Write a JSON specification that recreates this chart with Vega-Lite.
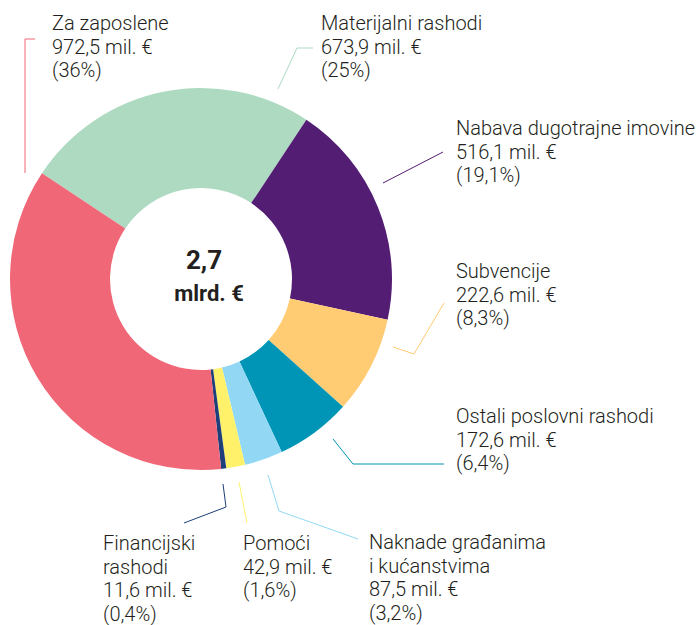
{
  "$schema": "https://vega.github.io/schema/vega-lite/v6.json",
  "width": 698,
  "height": 625,
  "autosize": {"type": "none"},
  "padding": 0,
  "background": "#ffffff",
  "config": {"view": {"stroke": null}},
  "datasets": {
    "slices": [
      {"cat": "Materijalni rashodi", "value": 673.9, "ord": 1},
      {"cat": "Nabava dugotrajne imovine", "value": 516.1, "ord": 2},
      {"cat": "Subvencije", "value": 222.6, "ord": 3},
      {"cat": "Ostali poslovni rashodi", "value": 172.6, "ord": 4},
      {"cat": "Naknade građanima i kućanstvima", "value": 87.5, "ord": 5},
      {"cat": "Pomoći", "value": 42.9, "ord": 6},
      {"cat": "Financijski rashodi", "value": 11.6, "ord": 7},
      {"cat": "Za zaposlene", "value": 972.5, "ord": 8}
    ],
    "labels": [
      {"cat": "Za zaposlene", "text": "Za zaposlene\n972,5 mil. €\n(36%)", "lx": -149, "ly": 249},
      {"cat": "Materijalni rashodi", "text": "Materijalni rashodi\n673,9 mil. €\n(25%)", "lx": 120, "ly": 249},
      {"cat": "Nabava dugotrajne imovine", "text": "Nabava dugotrajne imovine\n516,1 mil. €\n(19,1%)", "lx": 255, "ly": 144},
      {"cat": "Subvencije", "text": "Subvencije\n222,6 mil. €\n(8,3%)", "lx": 255, "ly": 1},
      {"cat": "Ostali poslovni rashodi", "text": "Ostali poslovni rashodi\n172,6 mil. €\n(6,4%)", "lx": 255, "ly": -144},
      {"cat": "Naknade građanima i kućanstvima", "text": "Naknade građanima\ni kućanstvima\n87,5 mil. €\n(3,2%)", "lx": 168, "ly": -270},
      {"cat": "Pomoći", "text": "Pomoći\n42,9 mil. €\n(1,6%)", "lx": 42, "ly": -271},
      {"cat": "Financijski rashodi", "text": "Financijski\nrashodi\n11,6 mil. €\n(0,4%)", "lx": -98, "ly": -271}
    ],
    "leaders": [
      {"cat": "Za zaposlene", "seq": 1, "lx": -166, "ly": 240},
      {"cat": "Za zaposlene", "seq": 2, "lx": -176, "ly": 240},
      {"cat": "Za zaposlene", "seq": 3, "lx": -176, "ly": 106},
      {"cat": "Materijalni rashodi", "seq": 1, "lx": 112, "ly": 231},
      {"cat": "Materijalni rashodi", "seq": 2, "lx": 96, "ly": 231},
      {"cat": "Materijalni rashodi", "seq": 3, "lx": 77, "ly": 190},
      {"cat": "Nabava dugotrajne imovine", "seq": 1, "lx": 242, "ly": 127},
      {"cat": "Nabava dugotrajne imovine", "seq": 2, "lx": 182, "ly": 96},
      {"cat": "Subvencije", "seq": 1, "lx": 243, "ly": -24},
      {"cat": "Subvencije", "seq": 2, "lx": 213, "ly": -75},
      {"cat": "Subvencije", "seq": 3, "lx": 192, "ly": -68},
      {"cat": "Ostali poslovni rashodi", "seq": 1, "lx": 243, "ly": -185},
      {"cat": "Ostali poslovni rashodi", "seq": 2, "lx": 152, "ly": -185},
      {"cat": "Ostali poslovni rashodi", "seq": 3, "lx": 132, "ly": -160},
      {"cat": "Naknade građanima i kućanstvima", "seq": 1, "lx": 157, "ly": -260},
      {"cat": "Naknade građanima i kućanstvima", "seq": 2, "lx": 78, "ly": -232},
      {"cat": "Naknade građanima i kućanstvima", "seq": 3, "lx": 67, "ly": -196},
      {"cat": "Pomoći", "seq": 1, "lx": 46, "ly": -244},
      {"cat": "Pomoći", "seq": 2, "lx": 38, "ly": -203},
      {"cat": "Financijski rashodi", "seq": 1, "lx": -17, "ly": -244},
      {"cat": "Financijski rashodi", "seq": 2, "lx": 25, "ly": -228},
      {"cat": "Financijski rashodi", "seq": 3, "lx": 22, "ly": -205}
    ]
  },
  "resolve": {"scale": {"x": "shared", "y": "shared"}},
  "layer": [
    {
      "data": {"name": "slices"},
      "mark": {"type": "arc", "outerRadius": 191, "innerRadius": 91},
      "encoding": {
        "x": {"datum": 0, "type": "quantitative", "scale": {"domain": [-201, 497], "nice": false, "zero": false}, "axis": null},
        "y": {"datum": 0, "type": "quantitative", "scale": {"domain": [-346, 279], "nice": false, "zero": false}, "axis": null},
        "theta": {"field": "value", "type": "quantitative", "stack": true, "scale": {"range": [-0.984, 5.2992]}},
        "order": {"field": "ord", "type": "quantitative", "sort": "ascending"},
        "color": {
          "field": "cat", "type": "nominal", "legend": null,
          "scale": {
            "domain": ["Materijalni rashodi", "Nabava dugotrajne imovine", "Subvencije", "Ostali poslovni rashodi", "Naknade građanima i kućanstvima", "Pomoći", "Financijski rashodi", "Za zaposlene"],
            "range": ["#ADDAC1", "#541D74", "#FFCB73", "#0095B6", "#92D8F5", "#FFF26A", "#1E3F7A", "#F06777"]
          }
        }
      }
    },
    {
      "data": {"name": "leaders"},
      "mark": {"type": "line", "strokeWidth": 1, "interpolate": "linear"},
      "encoding": {
        "x": {"field": "lx", "type": "quantitative", "axis": null},
        "y": {"field": "ly", "type": "quantitative", "axis": null},
        "detail": {"field": "cat"},
        "order": {"field": "seq", "type": "quantitative"},
        "color": {"field": "cat", "type": "nominal", "legend": null}
      }
    },
    {
      "data": {"name": "labels"},
      "mark": {"type": "text", "align": "left", "baseline": "alphabetic", "lineBreak": "\n", "lineHeight": 23.5, "font": "Roboto", "fontWeight": 300, "fontSize": 20, "color": "#231F20"},
      "encoding": {
        "x": {"field": "lx", "type": "quantitative", "axis": null},
        "y": {"field": "ly", "type": "quantitative", "axis": null},
        "text": {"field": "text"}
      }
    },
    {
      "data": {"values": [{"t": "2,7", "lx": 3, "ly": 10, "s": "big"}, {"t": "mlrd. €", "lx": 8, "ly": -22, "s": "small"}]},
      "mark": {"type": "text", "align": "center", "baseline": "alphabetic", "font": "Roboto", "fontWeight": "bold", "color": "#231F20"},
      "encoding": {
        "x": {"field": "lx", "type": "quantitative", "axis": null},
        "y": {"field": "ly", "type": "quantitative", "axis": null},
        "text": {"field": "t"},
        "size": {"field": "s", "type": "nominal", "legend": null, "scale": {"domain": ["big", "small"], "range": [26, 22]}}
      }
    }
  ]
}
